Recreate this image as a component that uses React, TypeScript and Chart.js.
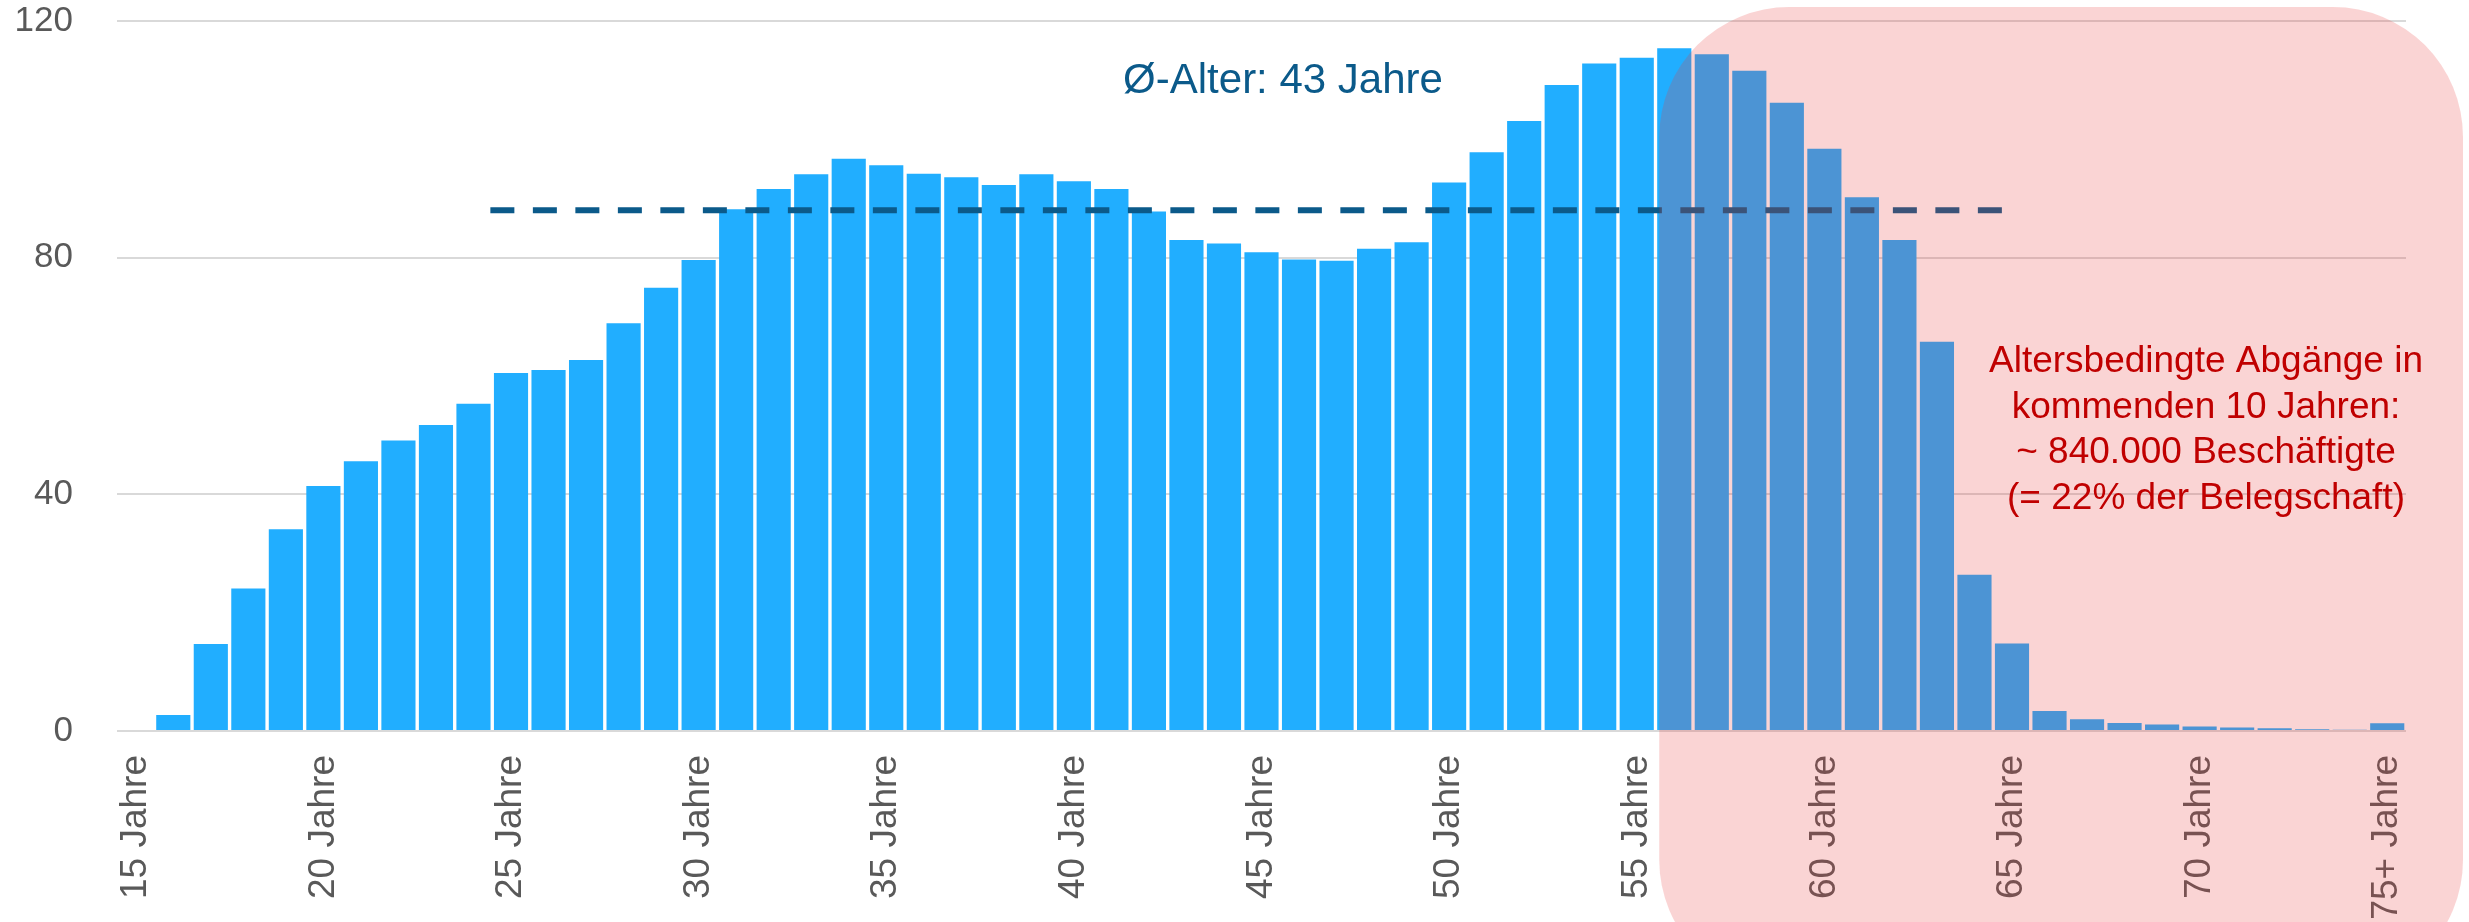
import React, { useEffect, useRef } from "react";
import { Chart, registerables } from "chart.js";

Chart.register(...registerables);

// Age categories 15 .. 74, then 75+
const ageLabels: string[] = [];
for (let a = 15; a <= 74; a++) ageLabels.push(`${a} Jahre`);
ageLabels.push("75+ Jahre");

// Employees per age year (thousands)
const employees = [
  0, 2.7, 14.7, 24.1, 34.1, 41.4, 45.6, 49.1, 51.7, 55.3,
  60.5, 61.0, 62.7, 68.9, 74.9, 79.6, 88.2, 91.6, 94.1, 96.7,
  95.6, 94.2, 93.6, 92.3, 94.1, 92.9, 91.6, 87.8, 83.0, 82.4,
  80.9, 79.7, 79.5, 81.5, 82.6, 92.7, 97.8, 103.1, 109.2, 112.8,
  113.8, 115.4, 114.4, 111.6, 106.2, 98.4, 90.2, 83.0, 65.8, 26.4,
  14.8, 3.4, 2.0, 1.35, 1.1, 0.75, 0.6, 0.45, 0.3, 0.2,
  1.3,
];

// Average age line (value and age span)
const avgValue = 88;
const avgSpan = [24.45, 65.05];
const avgLabel = "Ø-Alter: 43 Jahre";

const yTicks = [0, 40, 80, 120];

const noteLines = [
  "Altersbedingte Abgänge in",
  "kommenden 10 Jahren:",
  "~ 840.000 Beschäftigte",
  "(= 22% der Belegschaft)",
];

const FONT = "'Liberation Sans', Arial, sans-serif";

export default function App() {
  const ref = useRef<HTMLCanvasElement | null>(null);

  useEffect(() => {
    document.body.style.margin = "0";
    const canvas = ref.current!;
    const overlay = {
      id: "overlay",
      afterDraw(chart: any) {
        const ctx = chart.ctx as CanvasRenderingContext2D;
        const x2 = chart.scales.x2;
        const left = x2.getPixelForValue(55.6);
        const right = chart.chartArea.right + 57;
        const top = 7;
        const bottom = 990;
        const r = 130;
        ctx.save();
        ctx.beginPath();
        ctx.moveTo(left + r, top);
        ctx.lineTo(right - r, top);
        ctx.arcTo(right, top, right, top + r, r);
        ctx.lineTo(right, bottom - r);
        ctx.arcTo(right, bottom, right - r, bottom, r);
        ctx.lineTo(left + r, bottom);
        ctx.arcTo(left, bottom, left, bottom - r, r);
        ctx.lineTo(left, top + r);
        ctx.arcTo(left, top, left + r, top, r);
        ctx.closePath();
        ctx.fillStyle = "rgba(230,60,60,0.22)";
        ctx.fill();

        // red note
        ctx.fillStyle = "#C00000";
        ctx.font = `37px ${FONT}`;
        ctx.textAlign = "center";
        ctx.textBaseline = "alphabetic";
        const cx = 2206;
        noteLines.forEach((l, i) => ctx.fillText(l, cx, 372 + i * 45.5));

        // average label
        ctx.fillStyle = "#0B5A8A";
        ctx.font = `42px ${FONT}`;
        ctx.textAlign = "center";
        ctx.fillText(avgLabel, 1283, 93);
        ctx.restore();
      },
    };

    const chart = new Chart(canvas, {
      data: {
        labels: ageLabels,
        datasets: [
          {
            type: "line",
            xAxisID: "x2",
            data: [
              { x: avgSpan[0], y: avgValue },
              { x: avgSpan[1], y: avgValue },
            ],
            borderColor: "#0B5A8A",
            borderWidth: 6,
            borderDash: [24, 18.5],
            pointRadius: 0,
            order: 0,
          } as any,
          {
            type: "bar",
            xAxisID: "x",
            data: employees,
            backgroundColor: "#21AEFF",
            borderWidth: 0,
            grouped: false,
            categoryPercentage: 0.91,
            barPercentage: 1,
            order: 1,
          },
        ],
      },
      options: {
        responsive: false,
        animation: false,
        layout: { padding: { left: 14, top: 1, right: 63, bottom: 4 } },
        plugins: { legend: { display: false }, tooltip: { enabled: false } },
        scales: {
          x: {
            type: "category",
            offset: true,
            grid: {
              display: true,
              drawOnChartArea: false,
              drawTicks: true,
              tickLength: 24,
              tickColor: "rgba(0,0,0,0)",
            },
            border: { display: false },
            afterFit: (s: any) => {
              s.height = 187;
            },
            ticks: {
              autoSkip: false,
              minRotation: 90,
              maxRotation: 90,
              padding: 0,
              color: "#595959",
              font: { family: FONT, size: 37 },
              callback: (_v: any, i: number) => (i % 5 === 0 ? ageLabels[i] : ""),
            },
          },
          x2: {
            type: "linear",
            display: false,
            min: 14.5,
            max: 75.5,
          },
          y: {
            min: 0,
            max: 120,
            afterBuildTicks: (s: any) => {
              s.ticks = yTicks.map((v) => ({ value: v }));
            },
            afterFit: (s: any) => {
              s.width = 103;
            },
            grid: {
              color: "#D9D9D9",
              lineWidth: 2,
              drawTicks: true,
              tickLength: 44,
              tickColor: "rgba(0,0,0,0)",
            },
            border: { display: false },
            ticks: {
              padding: 0,
              color: "#595959",
              font: { family: FONT, size: 35 },
            },
          },
        },
      },
      plugins: [overlay],
    } as any);
    return () => chart.destroy();
  }, []);

  return (
    <div style={{ position: "absolute", left: 0, top: 0, width: 2469, height: 922 }}>
      <canvas ref={ref} width={2469} height={922} style={{ display: "block" }} />
    </div>
  );
}
